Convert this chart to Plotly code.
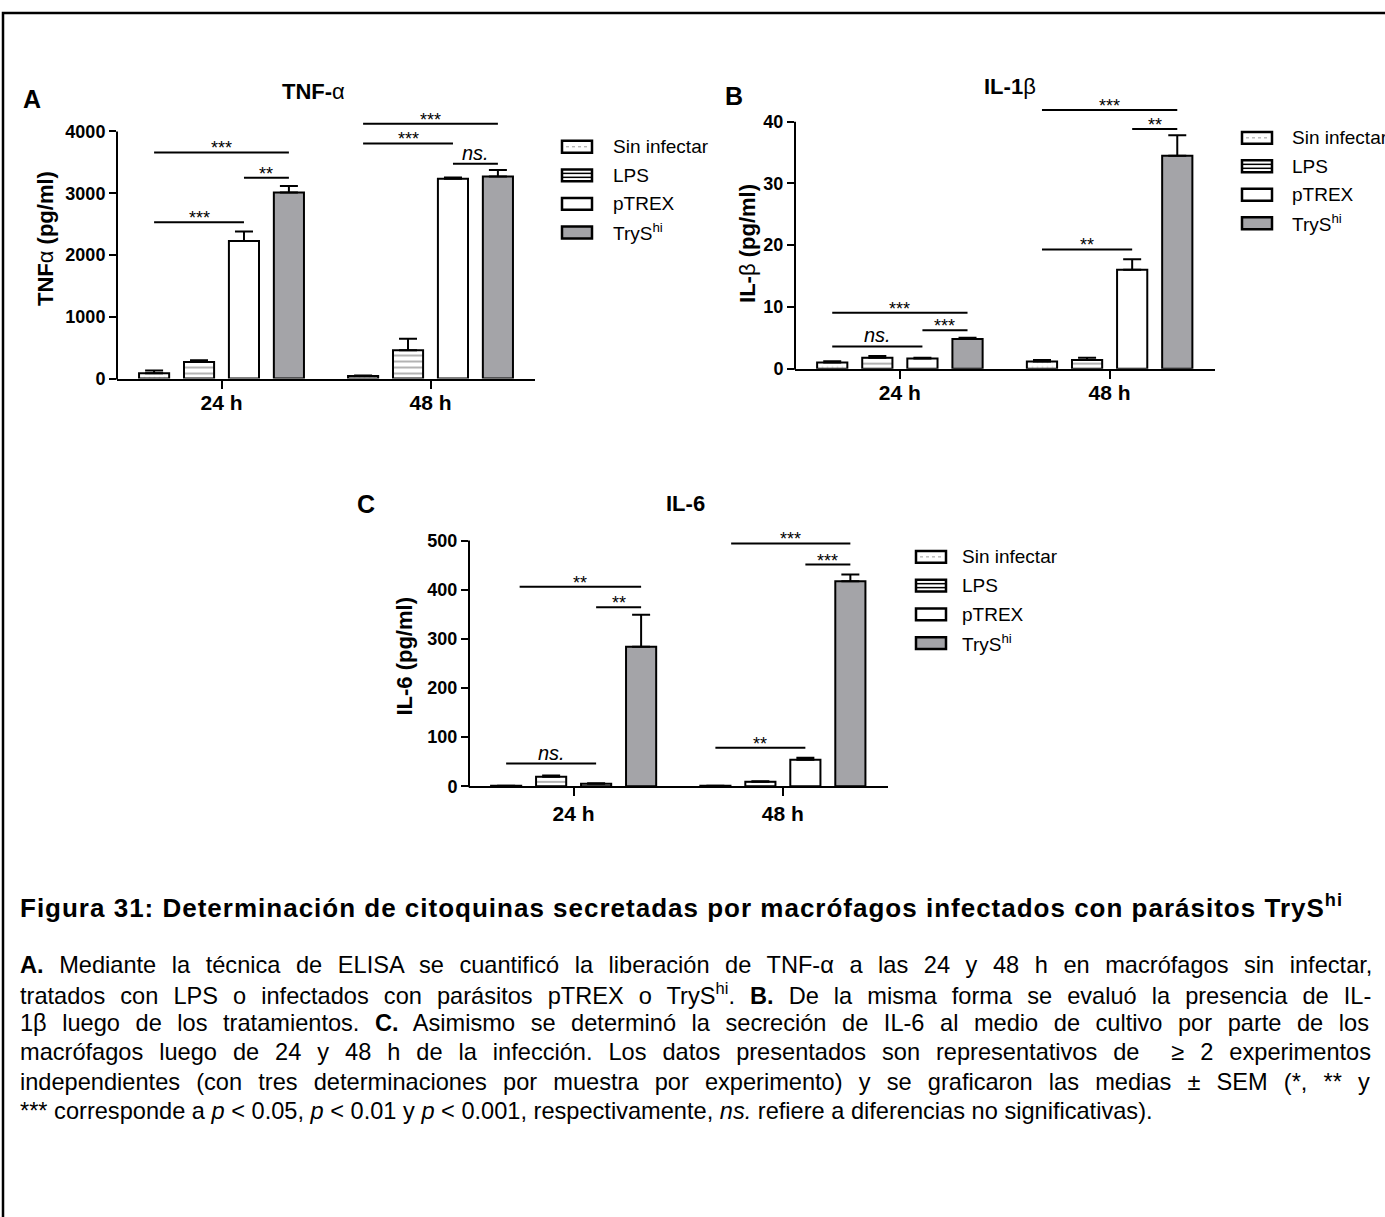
import plotly.graph_objects as go

W, H = 1385, 1217

groups = ["Sin infectar", "LPS", "pTREX", "TryS<sup>hi</sup>"]
times = ["24 h", "48 h"]

# mean and SEM for each group: [24 h, 48 h]
tnf_mean = [[85, 40], [270, 460], [2225, 3235], [3010, 3270]]
tnf_sem = [[45, 10], [25, 185], [155, 20], [105, 105]]
il1b_mean = [[1.0, 1.15], [1.75, 1.4], [1.65, 16.0], [4.8, 34.5]]
il1b_sem = [[0.2, 0.25], [0.3, 0.35], [0.1, 1.7], [0.2, 3.3]]
il6_mean = [[1, 1], [19, 9], [5, 54], [284, 417]]
il6_sem = [[0, 0], [2.5, 1], [1, 4], [65, 14]]

# significance brackets: (time index, from bar, to bar, height, label)
tnf_sig = [(0, 0, 3, 3660, "***"), (0, 2, 3, 3250, "**"), (0, 0, 2, 2530, "***"),
           (1, 0, 3, 4125, "***"), (1, 0, 2, 3805, "***"), (1, 2, 3, 3475, "ns.")]
il1b_sig = [(0, 0, 3, 9.05, "***"), (0, 2, 3, 6.2, "***"), (0, 0, 2, 3.6, "ns."),
            (1, 0, 3, 41.9, "***"), (1, 2, 3, 38.8, "**"), (1, 0, 2, 19.3, "**")]
il6_sig = [(0, 0.3, 3, 406, "**"), (0, 2, 3, 364, "**"), (0, 0, 2, 46, "ns."),
           (1, 0.35, 3, 494, "***"), (1, 2, 3, 451, "***"), (1, 0, 2, 78, "**")]

caption_title = ("<b>Figura 31: Determinación de citoquinas secretadas por macrófagos "
                 "infectados con parásitos TryS<sup>hi</sup></b>")
caption_lines = [
    "<b>A.</b> Mediante la técnica de ELISA se cuantificó la liberación de TNF-α a las 24 y 48 h en macrófagos sin infectar,",
    "tratados con LPS o infectados con parásitos pTREX o TryS<sup>hi</sup>. <b>B.</b> De la misma forma se evaluó la presencia de IL-",
    "1β luego de los tratamientos. <b>C.</b> Asimismo se determinó la secreción de IL-6 al medio de cultivo por parte de los",
    "macrófagos luego de 24 y 48 h de la infección. Los datos presentados son representativos de  ≥ 2 experimentos",
    "independientes (con tres determinaciones por muestra por experimento) y se graficaron las medias ± SEM (*, ** y",
    "*** corresponde a <i>p</i> &lt; 0.05, <i>p</i> &lt; 0.01 y <i>p</i> &lt; 0.001, respectivamente, <i>ns.</i> refiere a diferencias no significativas).",
]
# extra word spacing (px) to imitate the justified paragraph
caption_wordspace = [9, 8.5, 9, 9.4, 9.6, 0]

FONT = "Liberation Sans, Arial, sans-serif"
fills = ["white", "white", "white", "#a4a4a8"]
patterns = [dict(shape=".", fgcolor="#c4c4c4", size=5, solidity=0.12),
            dict(shape="-", fgcolor="black", size=6, solidity=0.2),
            dict(shape=""), dict(shape="")]

BARGAP, GROUPGAP = 0.14, 0.33
SLOT = (1 - BARGAP) / 4


def fx(px):
    return px / W


def fy(py):
    return 1 - py / H


def text_at(px, py, text, size, xanchor="center", **kw):
    return dict(x=fx(px), y=fy(py), xref="paper", yref="paper", text=text, showarrow=False,
                xanchor=xanchor, yanchor="middle",
                font=dict(size=size, color="black", family=FONT), **kw)


panels = [
    dict(n="", means=tnf_mean, sems=tnf_sem, sig=tnf_sig, px=(117, 535), py=(381.7, 132.5),
         top=4000, rmax=4500, dtick=1000, letter=("A", 32, 100), title=("<b>TNF-</b>α", 313, 92),
         ytitle=("<b>TNF</b>α<b> (pg/ml)</b>", 45, 240), leg=(562, 611, 148, 28.8), xstand=-4),
    dict(n="2", means=il1b_mean, sems=il1b_sem, sig=il1b_sig, px=(795, 1214.5), py=(371.7, 122.7),
         top=40, rmax=46, dtick=10, letter=("B", 734, 97), title=("<b>IL-1</b>β", 1010, 87),
         ytitle=("<b>IL-</b>β<b> (pg/ml)</b>", 748, 246), leg=(1242, 1290, 139, 28.7), xstand=-4),
    dict(n="3", means=il6_mean, sems=il6_sem, sig=il6_sig, px=(469, 887.5), py=(792.7, 545),
         top=500, rmax=540, dtick=100, letter=("C", 366, 508), title=("<b>IL-6</b>", 685, 508),
         ytitle=("<b>IL-6 (pg/ml)</b>", 405, 662), leg=(916, 960, 561.5, 29), xstand=0),
]

fig = go.Figure()
shapes, annotations = [], []
layout_axes = {}

for p in panels:
    n = p["n"]
    for g, name in enumerate(groups):
        fig.add_trace(go.Bar(
            x=times, y=p["means"][g], name=name, showlegend=False,
            xaxis="x" + n, yaxis="y" + n,
            marker=dict(color=fills[g], line=dict(color="black", width=2), pattern=patterns[g]),
            error_y=dict(type="data", array=p["sems"][g], arrayminus=[0, 0], symmetric=False,
                         color="black", thickness=2, width=9),
        ))

    ybot, ytick = p["py"]
    ytop = ybot - (ybot - ytick) * p["rmax"] / p["top"]
    layout_axes["xaxis" + n] = dict(
        domain=[fx(p["px"][0]), fx(p["px"][1])], anchor="y" + n, type="category",
        range=[-0.5, 1.5], showline=True, linecolor="black", linewidth=2, showgrid=False,
        ticks="outside", ticklen=8, tickwidth=2, tickcolor="black", fixedrange=True,
        ticklabelstandoff=p["xstand"],
        tickfont=dict(size=21, color="black", family=FONT, weight="bold"),
    )
    layout_axes["yaxis" + n] = dict(
        domain=[fy(ybot), fy(ytop)], anchor="x" + n, range=[0, p["rmax"]],
        tickvals=list(range(0, p["top"] + 1, p["dtick"])), showline=False, showgrid=False,
        zeroline=False, ticks="outside", ticklen=7, tickwidth=2, tickcolor="black",
        tickfont=dict(size=18, color="black", family=FONT, weight="bold"), fixedrange=True,
    )
    # y axis line only up to the last tick
    shapes.append(dict(type="line", xref="paper", yref="paper", x0=fx(p["px"][0]), x1=fx(p["px"][0]),
                       y0=fy(ybot + 1), y1=fy(ytick), line=dict(color="black", width=2)))

    # significance brackets
    for t, b0, b1, h, lab in p["sig"]:
        xa = t + (b0 - 1.5) * SLOT
        xb = t + (b1 - 1.5) * SLOT
        shapes.append(dict(type="line", xref="x" + n, yref="y" + n, x0=xa, x1=xb, y0=h, y1=h,
                           line=dict(color="black", width=2)))
        if lab == "ns.":
            annotations.append(dict(x=(xa + xb) / 2, y=h, xref="x" + n, yref="y" + n, text="<i>ns.</i>",
                                    showarrow=False, xanchor="center", yanchor="bottom", yshift=-2,
                                    font=dict(size=20, color="black", family=FONT)))
        else:
            annotations.append(dict(x=(xa + xb) / 2, y=h, xref="x" + n, yref="y" + n, text=lab,
                                    showarrow=False, xanchor="center", yanchor="bottom", yshift=-8,
                                    font=dict(size=18, color="black", family=FONT)))

    # panel letter, title, y title
    lt, lx, ly = p["letter"]
    annotations.append(text_at(lx, ly, "<b>%s</b>" % lt, 25))
    tt, tx, ty = p["title"]
    annotations.append(text_at(tx, ty, tt, 22))
    yt, yx, yy = p["ytitle"]
    annotations.append(text_at(yx, yy, yt, 22, textangle=-90))

    # legend drawn by hand: wide boxes like the original
    sx, tx_, y0, dy = p["leg"]
    for g, name in enumerate(groups):
        yc = y0 + g * dy
        shapes.append(dict(type="rect", xref="paper", yref="paper", x0=fx(sx), x1=fx(sx + 30),
                           y0=fy(yc + 6), y1=fy(yc - 6), fillcolor=fills[g],
                           line=dict(color="black", width=2.5)))
        if g == 0:
            shapes.append(dict(type="line", xref="paper", yref="paper", x0=fx(sx + 4), x1=fx(sx + 26),
                               y0=fy(yc), y1=fy(yc), line=dict(color="#9a9a9a", width=1, dash="dot")))
        if g == 1:
            for k in (-2, 2):
                shapes.append(dict(type="line", xref="paper", yref="paper", x0=fx(sx), x1=fx(sx + 30),
                                   y0=fy(yc + k), y1=fy(yc + k), line=dict(color="black", width=1.5)))
        annotations.append(text_at(tx_, yc, name, 19, xanchor="left"))

# outer frame of the figure page
shapes.append(dict(type="rect", xref="paper", yref="paper", x0=fx(3), x1=1.02, y0=-0.02, y1=fy(13),
                   line=dict(color="black", width=2.5)))

# caption
annotations.append(text_at(18, 914, '<span style="letter-spacing:1px">%s</span>' % caption_title,
                           26, xanchor="left"))
for i, line in enumerate(caption_lines):
    txt = '<span style="word-spacing:%.1fpx">%s</span>' % (caption_wordspace[i], line)
    annotations.append(text_at(18, 973 + i * 29.4, txt, 23.6, xanchor="left"))

fig.update_layout(
    width=W, height=H,
    margin=dict(l=0, r=0, t=0, b=0),
    paper_bgcolor="white", plot_bgcolor="white",
    barmode="group", bargap=BARGAP, bargroupgap=GROUPGAP,
    font=dict(family=FONT, color="black"),
    shapes=shapes, annotations=annotations,
    **layout_axes,
)

# the page body has a default 8px margin; drop it so the figure fills the window
fig.write_html("out.html", config={"displayModeBar": False},
               post_script="document.body.style.margin='0px';")
